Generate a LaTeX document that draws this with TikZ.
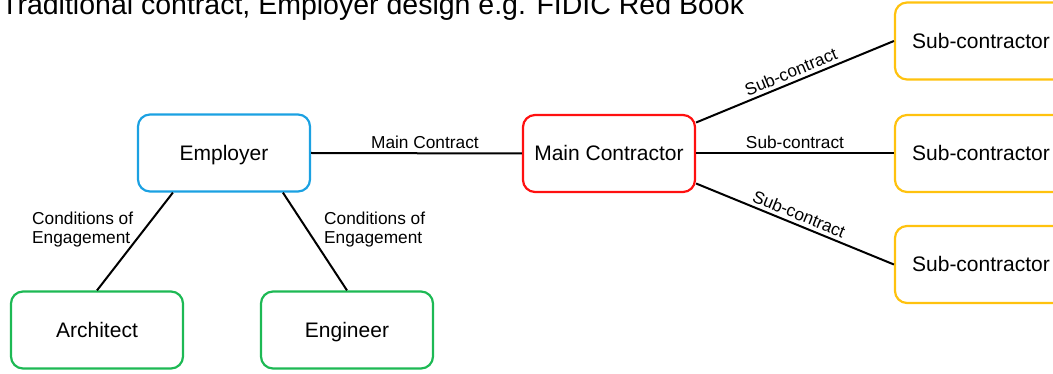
\documentclass[tikz,border=0pt]{standalone}
\usepackage{fontspec}
\setmainfont{Liberation Sans}
\definecolor{eblue}{HTML}{1BA1E2}
\definecolor{cred}{HTML}{FF1010}
\definecolor{agreen}{HTML}{1DB954}
\definecolor{syellow}{HTML}{FFC20E}
\tikzset{
  box/.style={draw, line width=2.2pt, rounded corners=12pt, minimum width=172pt, minimum height=77pt, inner sep=0pt, text height=15pt, text depth=0pt, font=\fontsize{21}{24}\selectfont},
  conn/.style={draw=black, line width=2pt},
  lbl/.style={font=\fontsize{17.3}{19}\selectfont, inner sep=3.5pt},
}
\begin{document}
\begin{tikzpicture}[x=1pt,y=-1pt]
\useasboundingbox (0,0) rectangle (1053,374);
\node[anchor=base west, inner sep=0pt, font=\fontsize{28.5}{32}\selectfont] (title) at (1,15) {Traditional contract, Employer design e.g. FIDIC Red Book};
\node[box, draw=eblue] (emp) at (224,153) {Employer};
\node[box, draw=cred] (mc) at (609,153.5) {Main Contractor};
\node[box, draw=syellow] (s1) at (981,41) {Sub-contractor};
\node[box, draw=syellow] (s2) at (981,153.5) {Sub-contractor};
\node[box, draw=syellow] (s3) at (981,264.5) {Sub-contractor};
\node[box, draw=agreen] (arch) at (97,330) {Architect};
\node[box, draw=agreen] (eng) at (347,330) {Engineer};
\path[conn] (emp.east) -- node[lbl, above, pos=0.54] {Main Contract} (mc.west);
\path[conn] ([xshift=36pt]emp.south west) -- (arch.north);
\path[conn] ([xshift=146pt]emp.south west) -- (eng.north);
\node[lbl, align=left, anchor=west, inner sep=0pt] (c1) at (32,230) {Conditions of\\Engagement};
\node[lbl, align=left, anchor=west, inner sep=0pt] (c2) at (324,230) {Conditions of\\Engagement};
\path[conn] ([yshift=31pt]mc.east) -- node[lbl, above, sloped, pos=0.5] {Sub-contract} (s1.west);
\path[conn] (mc.east) -- node[lbl, above, pos=0.5] {Sub-contract} (s2.west);
\path[conn] ([yshift=-30pt]mc.east) -- node[lbl, above, sloped, pos=0.5] {Sub-contract} (s3.west);
\end{tikzpicture}
\end{document}
